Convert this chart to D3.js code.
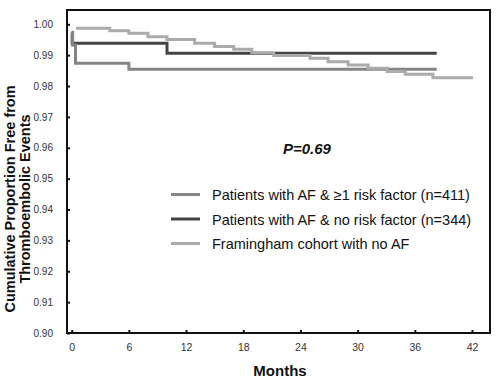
<!DOCTYPE html>
<html>
<head>
<meta charset="utf-8">
<script src="https://cdn.jsdelivr.net/npm/d3@7"></script>
<style>
  html, body { margin: 0; padding: 0; background: #fff; }
  svg { display: block; font-family: Arial, "Liberation Sans", sans-serif; }
</style>
</head>
<body>
<svg id="chart" width="500" height="383"></svg>
<script>
// ---- data ----
const xTicks = [0, 6, 12, 18, 24, 30, 36, 42];
const yTicks = [0.90, 0.91, 0.92, 0.93, 0.94, 0.95, 0.96, 0.97, 0.98, 0.99, 1.00];

const seriesNames = [
  "Patients with AF & \u22651 risk factor (n=411)",
  "Patients with AF & no risk factor (n=344)",
  "Framingham cohort with no AF"
];
const seriesColors = ["#858585", "#444444", "#ababab"];

// step functions (value holds from time until next time)
const riskTimes  = [0, 0.1, 0.4, 6.0, 38.3];
const riskValues = [0.9974, 0.9932, 0.9874, 0.9854, 0.9854];

const noRiskTimes  = [0, 0.05, 10.0, 38.3];
const noRiskValues = [0.9973, 0.9939, 0.9906, 0.9906];

const famTimes  = [0.45, 4.0, 6.0, 8.0, 10.0, 12.9, 15.0, 17.0, 18.9, 21.2, 25.0, 26.9, 29.0, 31.1, 33.1, 35.0, 37.9, 42.1];
const famValues = [0.9987, 0.9979, 0.9971, 0.9960, 0.9951, 0.9939, 0.9928, 0.9919, 0.9908, 0.9899, 0.9890, 0.9879, 0.9868, 0.9858, 0.9847, 0.9838, 0.9827, 0.9827];

const pText = "P=0.69";
const xLabel = "Months";
const yLabelLines = ["Cumulative Proportion Free from", "Thromboembolic Events"];

// ---- layout ----
const svg = d3.select("#chart");
const frame = { left: 67, right: 490, top: 10, bottom: 333 };

const x = d3.scaleLinear().domain([0, 42]).range([71.7, 472]);
const y = d3.scaleLinear().domain([0.90, 1.00]).range([333, 24.3]);

// frame
svg.append("rect")
  .attr("x", frame.left).attr("y", frame.top)
  .attr("width", frame.right - frame.left).attr("height", frame.bottom - frame.top)
  .attr("fill", "none").attr("stroke", "#111").attr("stroke-width", 2);

// axes (inward ticks)
const yAxis = d3.axisRight(y).tickValues(yTicks).tickFormat(d3.format(".2f")).tickSize(3).tickSizeOuter(0);
const yg = svg.append("g").attr("transform", `translate(${frame.left},0)`).call(yAxis);
yg.select(".domain").remove();
yg.selectAll(".tick line").attr("stroke", "#111").attr("stroke-width", 2);
yg.selectAll(".tick text")
  .attr("x", -14).attr("text-anchor", "end")
  .attr("font-size", 10).attr("fill", "#333");

const xAxis = d3.axisTop(x).tickValues(xTicks).tickFormat(d3.format("d")).tickSize(3).tickSizeOuter(0);
const xg = svg.append("g").attr("transform", `translate(0,${frame.bottom})`).call(xAxis);
xg.select(".domain").remove();
xg.selectAll(".tick line").attr("stroke", "#111").attr("stroke-width", 2);
xg.selectAll(".tick text")
  .attr("y", 17.5).attr("dy", null).attr("text-anchor", "middle")
  .attr("font-size", 10.5).attr("fill", "#333");

// curves
const line = d3.line().x(d => x(d[0])).y(d => y(d[1])).curve(d3.curveStepAfter);
const series = [
  { times: noRiskTimes, values: noRiskValues, color: seriesColors[1] },
  { times: riskTimes, values: riskValues, color: seriesColors[0] },
  { times: famTimes, values: famValues, color: seriesColors[2] }
];
series.forEach(s => {
  const pts = s.times.map((t, i) => [t, s.values[i]]);
  svg.append("path").attr("d", line(pts))
    .attr("fill", "none").attr("stroke", s.color).attr("stroke-width", 3);
});

// P value
svg.append("text").attr("x", 283).attr("y", 153.5)
  .attr("font-size", 15).attr("font-weight", "bold").attr("font-style", "italic")
  .attr("fill", "#111").text(pText);

// legend
const legendY = [194.5, 219, 243.5];
const legendOrder = [0, 1, 2];
legendOrder.forEach((k, i) => {
  svg.append("line").attr("x1", 171).attr("x2", 200)
    .attr("y1", legendY[i]).attr("y2", legendY[i])
    .attr("stroke", seriesColors[k]).attr("stroke-width", 3);
  svg.append("text").attr("x", 212).attr("y", legendY[i] + 0.5).attr("dy", "0.35em")
    .attr("font-size", 14.5).attr("fill", "#111").text(seriesNames[k]);
});

// axis labels
svg.append("text").attr("x", 280).attr("y", 376)
  .attr("text-anchor", "middle").attr("font-size", 15).attr("font-weight", "bold")
  .attr("fill", "#111").text(xLabel);

const yLabelX = [14.5, 30];
yLabelLines.forEach((t, i) => {
  svg.append("text")
    .attr("transform", `translate(${yLabelX[i]},${199}) rotate(-90)`)
    .attr("text-anchor", "middle").attr("font-size", 14.5).attr("font-weight", "bold")
    .attr("fill", "#111").text(t);
});
</script>
</body>
</html>
